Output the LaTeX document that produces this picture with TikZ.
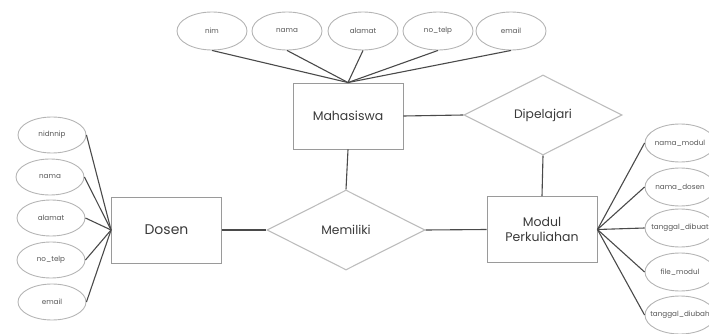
\documentclass[tikz,border=0pt]{standalone}
\usepackage{fontspec}
\setmainfont{Poppins}
\usetikzlibrary{shapes.geometric}
\definecolor{attrline}{HTML}{B4B4B4}
\definecolor{boxline}{HTML}{9A9A9A}
\definecolor{dialine}{HTML}{BDBDBD}
\definecolor{conn}{HTML}{4A4A4A}
\definecolor{txt}{HTML}{3A3A3A}
\definecolor{attrtxt}{HTML}{555555}
\newcommand{\fixw}[1]{\makebox[40pt][c]{#1}}
\tikzset{
  attr/.style={ellipse, draw=attrline, line width=0.9pt, minimum width=70pt, minimum height=38pt, inner sep=0pt, text=attrtxt, font=\fontsize{7.2}{8}\selectfont},
  entity/.style={rectangle, draw=boxline, line width=0.9pt, minimum width=110pt, minimum height=66pt, inner sep=0pt, text=txt, align=center, font=\fontsize{12.5}{15}\selectfont},
  rel/.style={diamond, draw=dialine, line width=1.1pt, minimum width=158pt, minimum height=80pt, inner sep=0pt, text=txt, font=\fontsize{12.3}{14}\selectfont},
  link/.style={draw=conn, line width=1.1pt},
}
\begin{document}
\begin{tikzpicture}[x=1pt,y=-1pt]
\useasboundingbox (0,0) rectangle (709,334);
% entities
\node[entity] (mhs) at (348,116) {Mahasiswa};
\node[entity, font=\fontsize{14}{16}\selectfont] (dsn) at (166.5,230) {Dosen};
\node[entity] (mod) at (542,229.5) {Modul\\Perkuliahan};
% relationships
\node[rel] (mem) at (346,230) {Memiliki};
\node[rel] (dip) at (543,115) {Dipelajari};
% top attributes
\node[attr] (t1) at (212,31) {nim};
\node[attr] (t2) at (287,31) {nama};
\node[attr] (t3) at (363,31) {alamat};
\node[attr] (t4) at (438,31) {no\_telp};
\node[attr] (t5) at (511,31) {email};
% left attributes
\node[attr, minimum width=68pt, minimum height=36pt] (l1) at (52,135) {nidnnip};
\node[attr, minimum width=68pt, minimum height=36pt] (l2) at (50,177) {nama};
\node[attr, minimum width=68pt, minimum height=36pt] (l3) at (51,218) {alamat};
\node[attr, minimum width=68pt, minimum height=36pt] (l4) at (51,260) {no\_telp};
\node[attr, minimum width=68pt, minimum height=36pt] (l5) at (52,302) {email};
% right attributes
\node[attr] (r1) at (680,143) {\fixw{nama\_modul}};
\node[attr] (r2) at (680,187) {\fixw{nama\_dosen}};
\node[attr] (r3) at (680,228) {\fixw{tanggal\_dibuat}};
\node[attr] (r4) at (680,272) {\fixw{file\_modul}};
\node[attr] (r5) at (680,315) {\fixw{tanggal\_diubah}};
% connectors
\foreach \a in {t1,t2,t3,t4,t5} \draw[link] (\a.south) -- (mhs.north);
\foreach \a in {l1,l2,l3,l4,l5} \draw[link] (\a.east) -- (dsn.west);
\foreach \a in {r1,r2,r3,r4,r5} \draw[link] (\a.west) -- (mod.east);
\draw[link] (mhs.east) -- (dip.west);
\draw[link] (dip.south) -- (mod.north);
\draw[link] (mhs.south) -- (mem.north);
\draw[link] (dsn.east) -- (mem.west);
\draw[link] (mem.east) -- (mod.west);
\end{tikzpicture}
\end{document}
